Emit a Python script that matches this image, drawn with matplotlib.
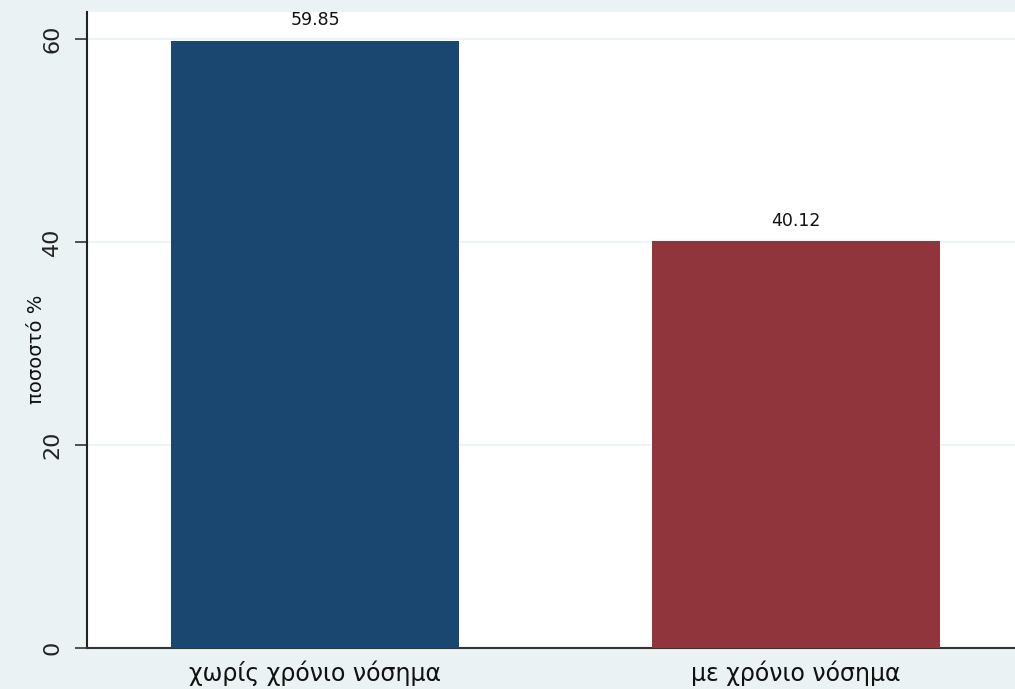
import numpy as np
import matplotlib.pyplot as plt

categories = ["χωρίς χρόνιο νόσημα", "με χρόνιο νόσημα"]
values = [59.85, 40.12]
colors = ["#1a476f", "#90353b"]
yticks = [0, 20, 40, 60]

bg = "#eaf2f3"

fig = plt.figure(figsize=(10.15, 6.89), dpi=100, facecolor=bg)
ax = fig.add_axes([87 / 1015, 41 / 689, 1 - 87 / 1015, 636 / 689])
ax.set_facecolor("white")

x = np.arange(1, len(categories) + 1)
bars = ax.bar(x, values, width=0.6, color=colors, zorder=3)
for xi, v in zip(x, values):
    ax.text(xi, v + 1.1, f"{v:.2f}", ha="center", va="bottom", fontsize=12.5,
            color="#111111")

ax.set_xlim(0.526, 2.455)
ax.set_ylim(0, 62.66)
ax.set_yticks(yticks)
ax.set_yticklabels([str(t) for t in yticks], rotation=90, va="center", fontsize=16,
                   color="#222222")
ax.set_xticks(x)
ax.set_xticklabels(categories, fontsize=17, color="#111111")
ax.tick_params(axis="x", length=0, pad=9)
ax.tick_params(axis="y", length=8.6, width=1.2, pad=9.4, color="#333333")
ax.grid(axis="y", color=bg, linewidth=1.2, zorder=0)
ax.set_ylabel("ποσοστό %", fontsize=14, color="#111111")
ax.yaxis.set_label_coords(-0.044, 0.47)

for side in ["top", "right"]:
    ax.spines[side].set_visible(False)
ax.spines["left"].set_linewidth(1.5)
ax.spines["bottom"].set_linewidth(1.5)
ax.spines["bottom"].set_color("#333333")
ax.spines["left"].set_color("#222222")

fig.savefig("out.png", dpi=100, facecolor=bg)
